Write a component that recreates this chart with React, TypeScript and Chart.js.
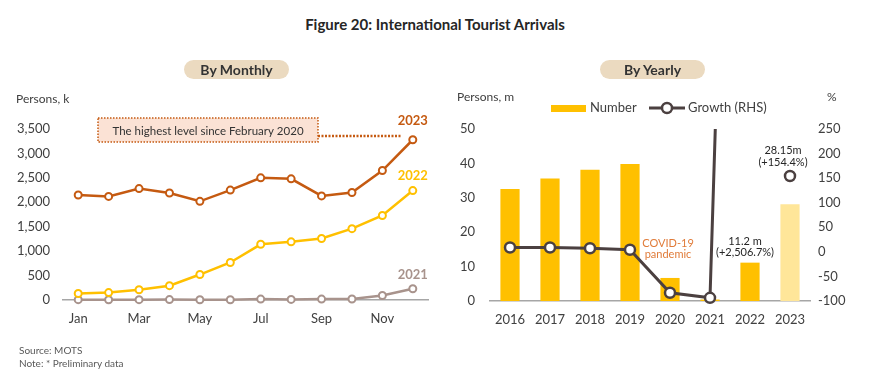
import React, { useEffect, useRef } from 'react';
import { Chart, registerables } from 'chart.js';

Chart.register(...registerables);

const FONT = 'Lato, "Open Sans", sans-serif';
Chart.defaults.font.family = FONT;

// ---- Monthly data (persons, thousand) ----
const months = ['Jan', 'Feb', 'Mar', 'Apr', 'May', 'Jun', 'Jul', 'Aug', 'Sep', 'Oct', 'Nov', 'Dec'];
const arrivals2021 = [7, 6, 7, 8, 5, 5, 18, 12, 19, 21, 91, 230];
const arrivals2022 = [133, 152, 210, 293, 521, 768, 1140, 1190, 1258, 1460, 1730, 2240];
const arrivals2023 = [2150, 2120, 2280, 2190, 2020, 2250, 2500, 2480, 2130, 2200, 2650, 3280];
const monthlySeriesNames = ['2023', '2022', '2021'];

// ---- Yearly data ----
const years = ['2016', '2017', '2018', '2019', '2020', '2021', '2022', '2023'];
const yearlyArrivals = [32.53, 35.59, 38.18, 39.8, 6.7, 0.43, 11.15, 28.15];
const yearlyGrowth = [8.9, 8.8, 7.3, 4.2, -83.2, -93.6, 2506.7, 154.4];

const C2023 = '#C55A11';
const C2022 = '#FFC000';
const C2021 = '#A8938C';
const BAR = '#FFC000';
const BAR_PRELIM = '#FFE699';
const GROWTH = '#4B4040';
const TICK = '#404040';

const monthlyLabelPlugin = {
  id: 'monthlyLabels',
  afterDraw(chart: any) {
    const { ctx, chartArea, scales } = chart;
    const x = scales.x;
    const y = scales.y;
    ctx.save();
    // series end labels
    const offsets = [12, 8, 7];
    chart.data.datasets.forEach((ds: any, i: number) => {
      const last = ds.data.length - 1;
      const px = x.getPixelForValue(last);
      const py = y.getPixelForValue(ds.data[last]);
      ctx.font = `bold 13px ${FONT}`;
      ctx.fillStyle = ds.borderColor;
      ctx.textAlign = 'center';
      ctx.textBaseline = 'bottom';
      ctx.fillText(ds.label, px, py - offsets[i]);
    });
    // annotation box
    const bx = chartArea.left + 35;
    const by = chartArea.top - 11;
    const bw = 220;
    const bh = 24;
    ctx.fillStyle = '#FBE2D5';
    ctx.fillRect(bx, by, bw, bh);
    ctx.setLineDash([1.5, 1.5]);
    ctx.lineWidth = 1.5;
    ctx.strokeStyle = C2023;
    ctx.strokeRect(bx, by, bw, bh);
    // dotted connector
    const endX = x.getPixelForValue(11) - 11;
    ctx.lineWidth = 2.5;
    ctx.setLineDash([2, 1.5]);
    ctx.beginPath();
    ctx.moveTo(bx + bw, by + 18);
    ctx.lineTo(endX, by + 18);
    ctx.stroke();
    ctx.setLineDash([]);
    ctx.fillStyle = '#333333';
    ctx.font = `11.5px ${FONT}`;
    ctx.textAlign = 'center';
    ctx.textBaseline = 'middle';
    ctx.fillText('The highest level since February 2020', bx + bw / 2, by + bh / 2 + 1);
    // unit
    ctx.fillStyle = TICK;
    ctx.font = `12px ${FONT}`;
    ctx.textAlign = 'left';
    ctx.fillText('Persons, k', 16, 99);
    ctx.restore();
  },
};

const yearlyLabelPlugin = {
  id: 'yearlyLabels',
  afterDraw(chart: any) {
    const { ctx, scales } = chart;
    const x = scales.x;
    const y = scales.y;
    const y1 = scales.y1;
    ctx.save();
    ctx.textAlign = 'center';
    ctx.textBaseline = 'middle';
    ctx.font = `11px ${FONT}`;
    // 2023 label
    ctx.fillStyle = '#262626';
    const p23x = x.getPixelForValue(7) - 7;
    const p23y = y1.getPixelForValue(yearlyGrowth[7]);
    ctx.fillText(`${yearlyArrivals[7]}m`, p23x, p23y - 26);
    ctx.fillText(`(+${yearlyGrowth[7]}%)`, p23x, p23y - 14);
    // 2022 label
    const p22x = x.getPixelForValue(6) - 5;
    const p22y = y.getPixelForValue(yearlyArrivals[6]);
    ctx.fillText('11.2 m', p22x, p22y - 21);
    ctx.fillText('(+2,506.7%)', p22x, p22y - 10);
    // COVID
    ctx.fillStyle = '#E07B39';
    const pcx = x.getPixelForValue(4) - 2;
    ctx.fillText('COVID-19', pcx, 243);
    ctx.fillText('pandemic', pcx, 254);
    // units
    ctx.font = `12px ${FONT}`;
    ctx.fillStyle = TICK;
    ctx.textAlign = 'left';
    ctx.fillText('Persons, m', 17, 97);
    ctx.fillText('%', 387, 97);
    // legend
    const barDs = chart.data.datasets[1];
    const lineDs = chart.data.datasets[0];
    ctx.font = `13px ${FONT}`;
    ctx.fillStyle = BAR;
    ctx.fillRect(111, 105, 35, 7);
    ctx.fillStyle = TICK;
    ctx.fillText(barDs.label, 150, 108);
    ctx.strokeStyle = GROWTH;
    ctx.lineWidth = 3;
    ctx.beginPath();
    ctx.moveTo(209, 108);
    ctx.lineTo(245, 108);
    ctx.stroke();
    ctx.beginPath();
    ctx.arc(227, 108, 5, 0, Math.PI * 2);
    ctx.fillStyle = '#fff';
    ctx.fill();
    ctx.lineWidth = 2.5;
    ctx.stroke();
    ctx.fillStyle = TICK;
    ctx.fillText(lineDs.label, 248, 108);
    ctx.restore();
  },
};

function MonthlyChart() {
  const ref = useRef<HTMLCanvasElement>(null);
  useEffect(() => {
    if (!ref.current) return;
    const mk = (label: string, data: number[], color: string) => ({
      type: 'line' as const,
      label,
      data,
      borderColor: color,
      backgroundColor: color,
      borderWidth: 2.5,
      pointRadius: 3.5,
      pointBorderWidth: 2,
      pointBackgroundColor: '#ffffff',
      pointBorderColor: color,
      clip: false as any,
    });
    const chart = new Chart(ref.current, {
      type: 'line',
      data: {
        labels: months,
        datasets: [
          mk(monthlySeriesNames[0], arrivals2023, C2023),
          mk(monthlySeriesNames[1], arrivals2022, C2022),
          mk(monthlySeriesNames[2], arrivals2021, C2021),
        ],
      },
      options: {
        animation: false,
        responsive: false,
        layout: { padding: { top: 129, bottom: 58, left: 0, right: 12 } },
        plugins: { legend: { display: false }, tooltip: { enabled: false } },
        scales: {
          x: {
            offset: true,
            grid: { display: false, drawTicks: false },
            border: { color: '#A6A6A6', width: 1.5 },
            ticks: {
              color: TICK,
              font: { size: 13 },
              padding: 11,
              autoSkip: false,
              maxRotation: 0,
              callback: (_v: any, i: number) => (i % 2 === 0 ? months[i] : ''),
            },
            afterFit: (s: any) => {
              s.height = 30;
            },
          },
          y: {
            min: 0,
            max: 3500,
            grid: { display: false, drawTicks: false },
            border: { display: false },
            ticks: {
              stepSize: 500,
              color: TICK,
              font: { size: 13 },
              padding: 13,
              callback: (v: any) => Number(v).toLocaleString('en-US'),
            },
            afterFit: (s: any) => {
              s.width = 63;
            },
          },
        },
      },
      plugins: [monthlyLabelPlugin],
    });
    return () => chart.destroy();
  }, []);
  return <canvas ref={ref} width={440} height={388} style={{ position: 'absolute', left: 0, top: 0 }} />;
}

function YearlyChart() {
  const ref = useRef<HTMLCanvasElement>(null);
  useEffect(() => {
    if (!ref.current) return;
    const chart = new Chart(ref.current, {
      type: 'bar',
      data: {
        labels: years,
        datasets: [
          {
            type: 'line',
            label: 'Growth (RHS)',
            data: yearlyGrowth,
            yAxisID: 'y1',
            borderColor: GROWTH,
            backgroundColor: GROWTH,
            borderWidth: 3,
            pointRadius: 5,
            pointBorderWidth: 2.5,
            pointBackgroundColor: '#ffffff',
            pointBorderColor: GROWTH,
            clip: { top: 0, bottom: 12, left: 12, right: 12 } as any,
            segment: {
              borderColor: (c: any) => (c.p1DataIndex === years.length - 1 ? 'rgba(0,0,0,0)' : undefined),
            },
            order: 0,
          } as any,
          {
            type: 'bar',
            label: 'Number',
            data: yearlyArrivals,
            yAxisID: 'y',
            backgroundColor: years.map((_, i) => (i === years.length - 1 ? BAR_PRELIM : BAR)),
            barPercentage: 0.48,
            categoryPercentage: 1,
            order: 1,
          },
        ],
      },
      options: {
        animation: false,
        responsive: false,
        layout: { padding: { top: 129, bottom: 57, left: 0, right: 0 } },
        plugins: { legend: { display: false }, tooltip: { enabled: false } },
        scales: {
          x: {
            offset: true,
            grid: { display: false, drawTicks: false },
            border: { color: '#A6A6A6', width: 1.5 },
            ticks: { color: TICK, font: { size: 13 }, padding: 11, autoSkip: false, maxRotation: 0 },
            afterFit: (s: any) => {
              s.height = 30;
            },
          },
          y: {
            position: 'left',
            min: 0,
            max: 50,
            grid: { display: false, drawTicks: false },
            border: { display: false },
            ticks: { stepSize: 10, color: TICK, font: { size: 13 }, padding: 15 },
            afterFit: (s: any) => {
              s.width = 50;
            },
          },
          y1: {
            position: 'right',
            min: -100,
            max: 250,
            grid: { display: false, drawTicks: false },
            border: { display: false },
            ticks: { stepSize: 50, color: TICK, font: { size: 13 }, padding: 8 },
            afterFit: (s: any) => {
              s.width = 60;
            },
          },
        },
      },
      plugins: [yearlyLabelPlugin],
    });
    return () => chart.destroy();
  }, []);
  return <canvas ref={ref} width={430} height={388} style={{ position: 'absolute', left: 440, top: 0 }} />;
}

const pill: React.CSSProperties = {
  position: 'absolute',
  top: 60,
  width: 105,
  height: 19,
  borderRadius: 10,
  background: '#EBDAC0',
  color: '#333333',
  fontFamily: FONT,
  fontWeight: 700,
  fontSize: 14,
  lineHeight: '19px',
  textAlign: 'center',
};

export default function App() {
  return (
    <div
      style={{
        position: 'fixed',
        left: 0,
        top: 0,
        width: 870,
        height: 388,
        background: '#ffffff',
        overflow: 'hidden',
        fontFamily: FONT,
      }}
    >
      <div
        style={{
          position: 'absolute',
          top: 15,
          left: 0,
          width: 870,
          textAlign: 'center',
          fontWeight: 700,
          fontSize: 15,
          color: '#262626',
        }}
      >
        Figure 20: International Tourist Arrivals
      </div>
      <MonthlyChart />
      <YearlyChart />
      <div style={{ ...pill, left: 184 }}>By Monthly</div>
      <div style={{ ...pill, left: 600 }}>By Yearly</div>
      <div
        style={{
          position: 'absolute',
          left: 19,
          top: 344,
          fontSize: 10,
          lineHeight: '13px',
          color: '#595959',
        }}
      >
        <div>Source: MOTS</div>
        <div>Note: * Preliminary data</div>
      </div>
    </div>
  );
}
